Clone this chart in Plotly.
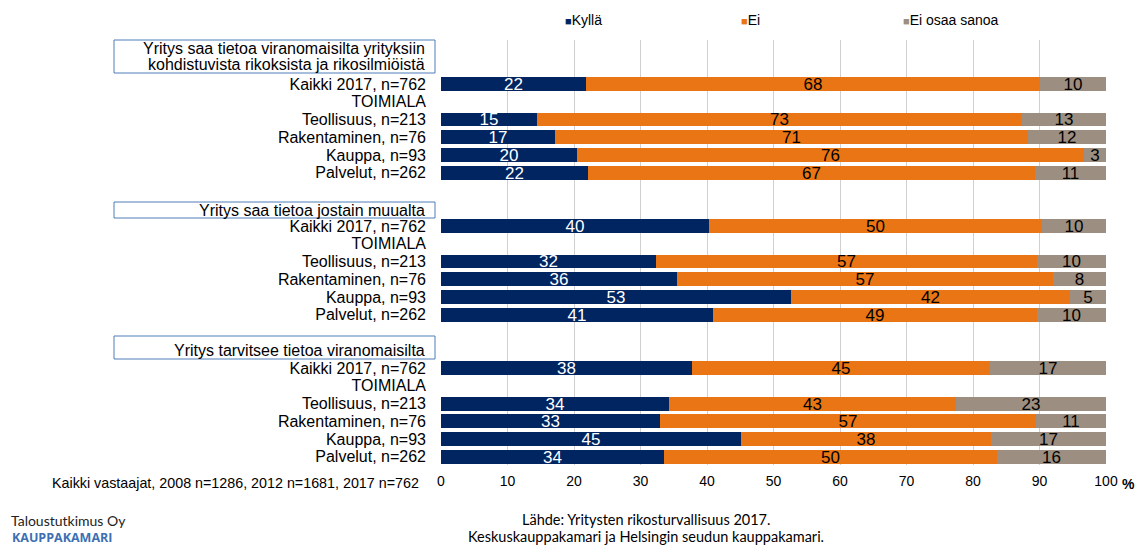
import plotly.graph_objects as go

# ---------------- data ----------------
row_labels = [
    "Kaikki 2017, n=762", "TOIMIALA", "Teollisuus, n=213", "Rakentaminen, n=76",
    "Kauppa, n=93", "Palvelut, n=262",
]
headers = [
    ["Yritys saa tietoa viranomaisilta yrityksiin", "kohdistuvista rikoksista ja rikosilmiöistä"],
    ["Yritys saa tietoa jostain muualta"],
    ["Yritys tarvitsee tietoa viranomaisilta"],
]
bar_rows = ["Kaikki 2017, n=762", "Teollisuus, n=213", "Rakentaminen, n=76",
            "Kauppa, n=93", "Palvelut, n=262"]

# Kyllä share and cumulative end of "Ei"
kylla = [21.8, 14.5, 17.1, 20.4, 22.1,
         40.3, 32.3, 35.5, 52.6, 40.9,
         37.8, 34.3, 33.0, 45.1, 33.6]
ei_end = [90.0, 87.4, 88.2, 96.7, 89.3,
          90.4, 89.6, 92.1, 94.6, 89.6,
          82.5, 77.5, 89.5, 82.7, 83.6]
# printed labels
kylla_lbl = [22, 15, 17, 20, 22, 40, 32, 36, 53, 41, 38, 34, 33, 45, 34]
ei_lbl = [68, 73, 71, 76, 67, 50, 57, 57, 42, 49, 45, 43, 57, 38, 50]
eos_lbl = [10, 13, 12, 3, 11, 10, 10, 8, 5, 10, 17, 23, 11, 17, 16]

ei = [round(e - k, 2) for k, e in zip(kylla, ei_end)]
eos = [round(100 - e, 2) for e in ei_end]

series_names = ["Kyllä", "Ei", "Ei osaa sanoa"]
colors = ["#002561", "#EA7514", "#9C8E80"]
x_ticks = [0, 10, 20, 30, 40, 50, 60, 70, 80, 90, 100]

footer_left = ["Taloustutkimus Oy", "KAUPPAKAMARI"]
footer_source = ["Lähde: Yritysten rikosturvallisuus 2017.",
                 "Keskuskauppakamari ja Helsingin seudun kauppakamari."]
base_note = "Kaikki vastaajat, 2008 n=1286, 2012 n=1681, 2017 n=762"

# ---------------- positions ----------------
tick_vals, tick_text, bar_y = [], [], []
pos = 0
for g in range(3):
    pos += 1  # header slot
    for lab in row_labels:
        tick_vals.append(pos)
        tick_text.append(lab)
        if lab in bar_rows:
            bar_y.append(pos)
        pos += 1
    pos += 1  # blank slot

fig = go.Figure()
vals = [kylla, ei, eos]
lbls = [kylla_lbl, ei_lbl, eos_lbl]
txtcol = ["white", "black", "black"]
for name, v, l, c, tc in zip(series_names, vals, lbls, colors, txtcol):
    fig.add_trace(go.Bar(
        y=bar_y, x=v, orientation="h", name=name, width=0.78,
        marker=dict(color=c, line=dict(width=0)),
        text=[str(t) for t in l], textposition="inside", insidetextanchor="middle",
        textangle=0, textfont=dict(size=17, color=tc),
        showlegend=False, hoverinfo="x+name",
    ))

W, H = 1136, 545
L, R, T, B = 441, 30, 40, 80
pw, ph = W - L - R, H - T - B


def px_x(p):
    return (p - L) / pw


def px_y(p):
    return (H - B - p) / ph


fig.update_layout(
    width=W, height=H, barmode="stack", bargap=0,
    margin=dict(l=L, r=R, t=T, b=B, autoexpand=False),
    paper_bgcolor="white", plot_bgcolor="white",
    font=dict(family="Liberation Sans, Arial", color="black", size=16),
    uniformtext=dict(minsize=17, mode="show"),
    xaxis=dict(range=[0, 100], tickvals=x_ticks, showgrid=True, gridcolor="#D0D0D0",
               gridwidth=1, zeroline=False, showline=False, ticks="",
               ticklabelstandoff=6,
               tickfont=dict(size=14, color="black"), fixedrange=True),
    yaxis=dict(range=[22.46, -1.48], tickvals=tick_vals, ticktext=tick_text,
               showgrid=False, zeroline=False, showline=False, ticks="",
               ticklabelstandoff=14, tickfont=dict(size=16, color="black"),
               automargin=False, fixedrange=True),
)

# group headers: boxes (decoration) and text lines
box_px = [(40, 73), (202, 218), (336, 359)]
line_px = [[49, 64], [210], [350]]
for lines, (y0, y1), lys in zip(headers, box_px, line_px):
    fig.add_shape(type="rect", xref="paper", yref="paper",
                  x0=px_x(114), x1=px_x(435), y0=px_y(y1), y1=px_y(y0),
                  line=dict(color="#4F7DB8", width=1), fillcolor="rgba(0,0,0,0)")
    for t, ly in zip(lines, lys):
        fig.add_annotation(
            text=t, xref="paper", yref="paper", x=px_x(427), y=px_y(ly),
            xanchor="right", yanchor="middle", showarrow=False,
            font=dict(size=16, color="black"),
        )

# legend
leg_x = [563, 739, 901]
for name, c, lx in zip(series_names, colors, leg_x):
    fig.add_annotation(
        text=f"<span style='color:{c};font-size:11px'>■</span>{name}",
        xref="paper", yref="paper", x=px_x(lx), y=px_y(20),
        xanchor="left", yanchor="middle", showarrow=False,
        font=dict(size=14, color="black"),
    )

# % after axis
fig.add_annotation(text="<b>%</b>", xref="paper", yref="paper", x=px_x(1120), y=px_y(484),
                   xanchor="left", yanchor="middle", showarrow=False, font=dict(size=14))

# base note
fig.add_annotation(text=base_note,
                   xref="paper", yref="paper", x=px_x(421), y=px_y(483),
                   xanchor="right", yanchor="middle", showarrow=False, font=dict(size=14.3))

# footer
fig.add_annotation(text=footer_left[0], xref="paper", yref="paper",
                   x=px_x(9), y=px_y(520), xanchor="left", yanchor="middle",
                   showarrow=False, font=dict(family="Lato, Open Sans", size=14, color="#222"))
fig.add_annotation(text=f"<b>{footer_left[1]}</b>", xref="paper", yref="paper",
                   x=px_x(10), y=px_y(537), xanchor="left", yanchor="middle",
                   showarrow=False, font=dict(family="Open Sans, Lato", size=12.5, color="#3C6FB3"))
for t, ly in zip(footer_source, [519, 536]):
    fig.add_annotation(text=t, xref="paper", yref="paper", x=px_x(646), y=px_y(ly),
                       xanchor="center", yanchor="middle", showarrow=False,
                       font=dict(family="Lato, Open Sans", size=14.5, color="black"))

fig.write_html("out.html", config={"displayModeBar": False},
               post_script="document.body.style.margin='0';document.body.style.padding='0';")
